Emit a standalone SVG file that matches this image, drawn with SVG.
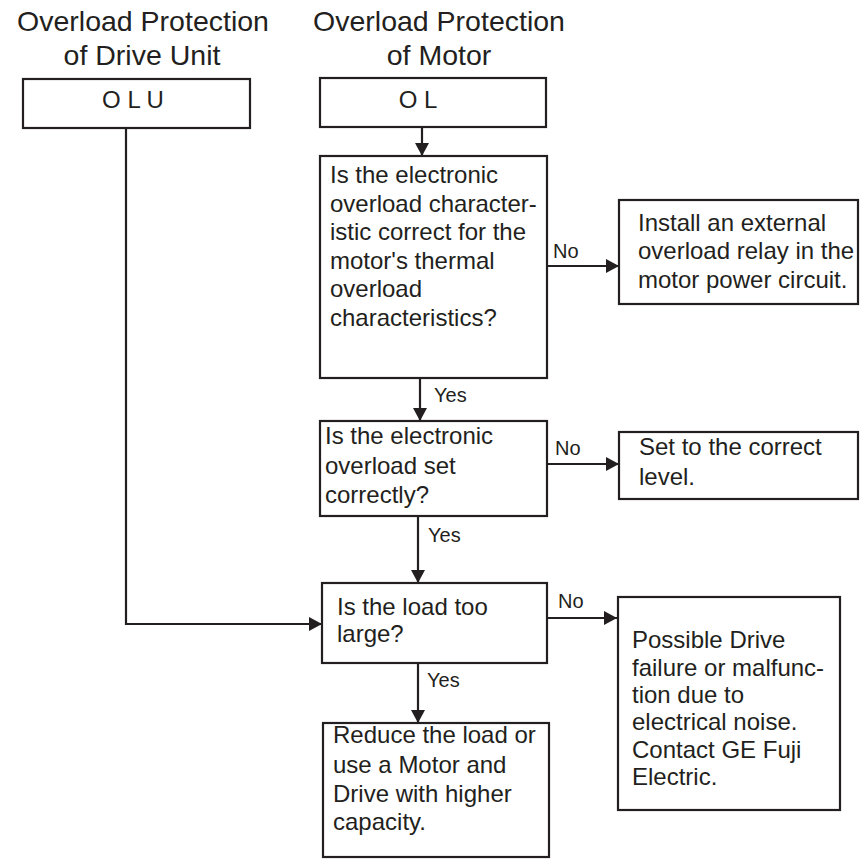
<svg xmlns="http://www.w3.org/2000/svg" width="860" height="860" viewBox="0 0 860 860">
<style>
text{font-family:"Liberation Sans",Arial,Helvetica,sans-serif;fill:#231f20}
.hd{font-size:28.5px;text-anchor:middle}
.bx{fill:#fff;stroke:#231f20;stroke-width:2.2}
.t{font-size:24px}
.c{font-size:24px;text-anchor:middle}
.lb{font-size:20px}
.ln{fill:none;stroke:#231f20;stroke-width:2.2;marker-end:url(#ah)}
</style>
<defs>
<marker id="ah" markerUnits="userSpaceOnUse" markerWidth="14" markerHeight="14" refX="13" refY="7" orient="auto">
<path d="M0,0 L13,7 L0,14 z" fill="#231f20"/>
</marker>
</defs>
<rect width="860" height="860" fill="#fff"/>
<g id="headers">
<text class="hd" x="143" y="31">Overload Protection</text>
<text class="hd" x="142" y="65">of Drive Unit</text>
<text class="hd" x="439" y="31">Overload Protection</text>
<text class="hd" x="439" y="65">of Motor</text>
</g>
<g id="connectors">
<line class="ln" x1="422" y1="127" x2="422" y2="156"/>
<line class="ln" x1="547" y1="266" x2="619" y2="266"/>
<line class="ln" x1="420" y1="378" x2="420" y2="421"/>
<line class="ln" x1="547" y1="464" x2="619" y2="464"/>
<line class="ln" x1="418" y1="516" x2="418" y2="583"/>
<path class="ln" d="M126,128 V624 H322"/>
<line class="ln" x1="547" y1="618" x2="617" y2="618"/>
<line class="ln" x1="418" y1="663" x2="418" y2="723"/>
<text class="lb" x="553" y="258">No</text>
<text class="lb" x="434" y="402">Yes</text>
<text class="lb" x="555" y="455">No</text>
<text class="lb" x="428" y="542">Yes</text>
<text class="lb" x="558" y="608">No</text>
<text class="lb" x="427" y="687">Yes</text>
</g>
<g id="olu">
<rect class="bx" x="23" y="79" width="227" height="49"/>
<text class="c" x="133" y="108">O L U</text>
</g>
<g id="ol">
<rect class="bx" x="320" y="78" width="226" height="49"/>
<text class="c" x="418" y="108">O L</text>
</g>
<g id="q1">
<rect class="bx" x="320" y="156" width="227" height="222"/>
<text class="t" x="330" y="183">Is the electronic</text>
<text class="t" x="330" y="212">overload character-</text>
<text class="t" x="330" y="240">istic correct for the</text>
<text class="t" x="330" y="269">motor's thermal</text>
<text class="t" x="330" y="297">overload</text>
<text class="t" x="330" y="326">characteristics?</text>
</g>
<g id="install">
<rect class="bx" x="619" y="200" width="239" height="104"/>
<text class="t" x="638" y="231">Install an external</text>
<text class="t" x="638" y="259">overload relay in the</text>
<text class="t" x="638" y="288">motor power circuit.</text>
</g>
<g id="q2">
<rect class="bx" x="320" y="421" width="227" height="95"/>
<text class="t" x="325" y="444">Is the electronic</text>
<text class="t" x="325" y="474">overload set</text>
<text class="t" x="325" y="503">correctly?</text>
</g>
<g id="setlevel">
<rect class="bx" x="619" y="432" width="239" height="67"/>
<text class="t" x="639" y="455">Set to the correct</text>
<text class="t" x="639" y="485">level.</text>
</g>
<g id="q3">
<rect class="bx" x="322" y="583" width="225" height="80"/>
<text class="t" x="337" y="615">Is the load too</text>
<text class="t" x="337" y="642">large?</text>
</g>
<g id="possible">
<rect class="bx" x="618" y="597" width="222" height="213"/>
<text class="t" x="632" y="648">Possible Drive</text>
<text class="t" x="632" y="676">failure or malfunc-</text>
<text class="t" x="632" y="703">tion due to</text>
<text class="t" x="632" y="730">electrical noise.</text>
<text class="t" x="632" y="758">Contact GE Fuji</text>
<text class="t" x="632" y="785">Electric.</text>
</g>
<g id="reduce">
<rect class="bx" x="323" y="723" width="226" height="134"/>
<text class="t" x="333" y="743">Reduce the load or</text>
<text class="t" x="333" y="773">use a Motor and</text>
<text class="t" x="333" y="802">Drive with higher</text>
<text class="t" x="333" y="830">capacity.</text>
</g>
</svg>
